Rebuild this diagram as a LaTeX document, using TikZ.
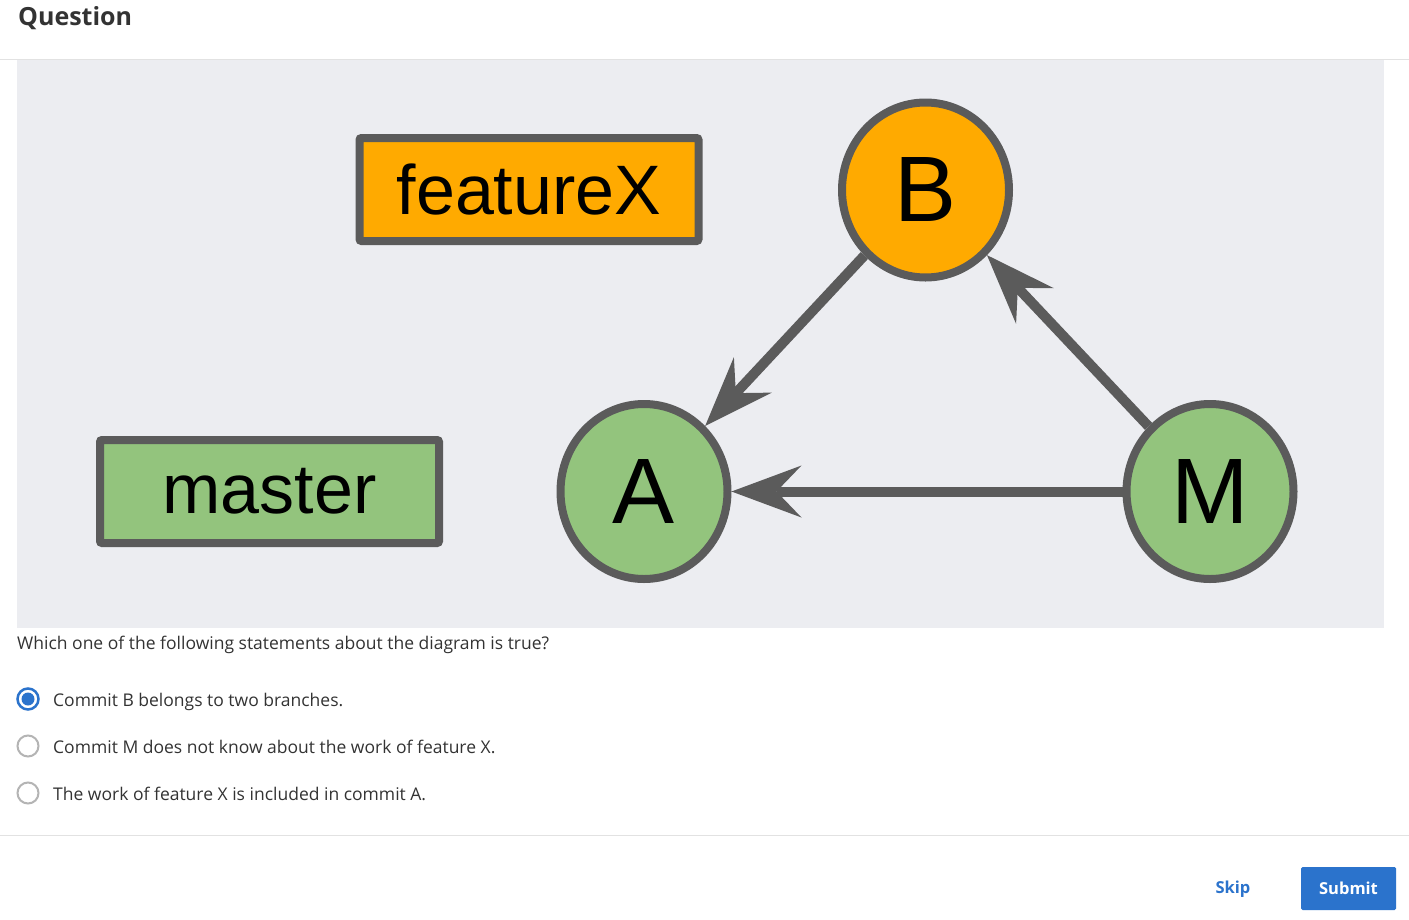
\documentclass[tikz,border=0pt]{standalone}
\usepackage{fontspec}
\setmainfont{Open Sans}
\newfontfamily\arialf{Liberation Sans}
\usetikzlibrary{arrows.meta,shapes.geometric}
\definecolor{edgec}{HTML}{5B5B5B}
\definecolor{orangec}{HTML}{FFAA00}
\definecolor{greenc}{HTML}{93C47D}
\definecolor{panelc}{HTML}{ECEDF1}
\definecolor{rulec}{HTML}{E2E2E2}
\definecolor{textc}{HTML}{333333}
\definecolor{bluec}{HTML}{2B73CC}
\definecolor{radioc}{HTML}{B4B4B4}
\tikzset{
  commit/.style={ellipse, draw=edgec, line width=8pt, minimum width=167pt, minimum height=175pt, inner sep=0pt,
    font=\arialf\fontsize{93}{110}\selectfont, text=black},
  branchbox/.style={rectangle, draw=edgec, line width=8pt, minimum width=339pt, minimum height=103pt,
    inner sep=0pt, rounded corners=2pt, font=\arialf\fontsize{70}{84}\selectfont, text=black},
  parent/.style={draw=edgec, line width=10pt,
    -{Stealth[length=70pt,width=52pt,inset=25pt,line width=0pt]}},
  uitext/.style={anchor=base west, inner sep=0pt, text=textc, font=\fontsize{17.5}{21}\selectfont},
  radio/.style={circle, draw=radioc, line width=2pt, minimum size=21pt, inner sep=0pt, fill=white},
}
\begin{document}
\begin{tikzpicture}[x=1pt,y=-1pt]
\useasboundingbox (0,0) rectangle (1409,919);
\fill[white] (0,0) rectangle (1409,919);
% header
\node[anchor=base west, inner sep=0pt, text=textc, font=\bfseries\fontsize{25}{30}\selectfont] (title) at (18,25) {Question};
\draw[rulec, line width=1pt] (0,59.5) -- (1409,59.5);
\fill[panelc] (17,60) rectangle (1384,628);
% diagram
\node[branchbox, fill=orangec] (fx) at (529,189.5) {featureX};
\node[branchbox, fill=greenc] (master) at (269.5,491.5) {master};
\node[commit, fill=orangec] (B) at (925.5,190) {B};
\node[commit, fill=greenc] (A) at (644,491.5) {A};
\node[commit, fill=greenc] (M) at (1210,491.5) {M};
\draw[parent] (B) -- (A);
\draw[parent] (M) -- (A);
\draw[parent] (M) -- (B);
% question
\node[uitext] (q) at (17,649) {Which one of the following statements about the diagram is true?};
\node[radio, draw=bluec, line width=2.5pt] (r1) at (28,699) {};
\fill[bluec] (r1.center) circle (6.5pt);
\node[radio] (r2) at (28,746) {};
\node[radio] (r3) at (28,793) {};
\node[uitext] (o1) at (53,706) {Commit B belongs to two branches.};
\node[uitext] (o2) at (53,753) {Commit M does not know about the work of feature X.};
\node[uitext] (o3) at (53,800) {The work of feature X is included in commit A.};
\draw[rulec, line width=1pt] (0,835.5) -- (1409,835.5);
% buttons
\node[text=bluec, inner sep=0pt, font=\bfseries\fontsize{16.5}{20}\selectfont] (skip) at (1233,889) {Skip};
\node[fill=bluec, rounded corners=1.5pt, minimum width=95pt, minimum height=43pt, inner sep=0pt,
  text=white, font=\bfseries\fontsize{16.5}{20}\selectfont] (submit) at (1348.5,888.5) {Submit};
\end{tikzpicture}
\end{document}
